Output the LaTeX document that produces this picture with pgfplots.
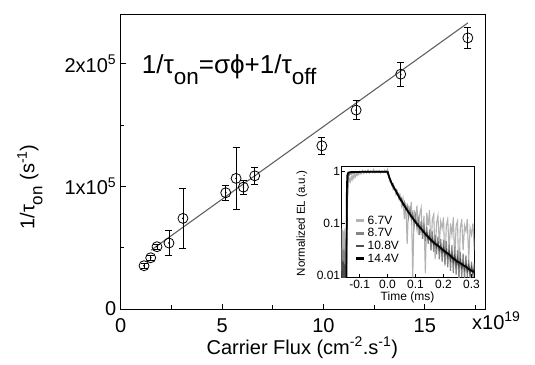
\documentclass[border=0pt]{standalone}
\usepackage{fontspec}
\setmainfont{Liberation Sans}
\usepackage{pgfplots}
\pgfplotsset{compat=1.18}
\definecolor{fitgray}{gray}{0.38}
\definecolor{c67}{gray}{0.70}
\definecolor{c87}{gray}{0.52}
\definecolor{c108}{gray}{0.30}
\newcommand{\fs}[1]{\fontsize{#1}{#1}\selectfont}
\begin{document}
\begin{tikzpicture}
\begin{axis}[name=main, at={(0pt,0pt)}, anchor=south west, scale only axis,
  width=365pt, height=294.3pt,
  xmin=0, xmax=18, ymin=0, ymax=2.4,
  xtick={0,5,10,15}, xticklabels={0,5,10,15}, minor xtick={2.5,7.5,12.5,17.5},
  ytick={0,1,2}, yticklabels={0,1x10\textsuperscript{5},2x10\textsuperscript{5}}, minor ytick={0.5,1.5},
  tick pos=left, tick align=inside,
  major tick length=5pt, minor tick length=3.5pt,
  every tick/.style={black, line width=0.8pt},
  axis line style={line width=0.8pt},
  /pgf/number format/assume math mode=true,
  ticklabel style={font=\fs{20}},
  yticklabel style={xshift=-1pt},
  xticklabel style={yshift=-6pt},
  clip=false,
]
\addplot[fitgray, line width=1.1pt] coordinates {(1.5,0.48) (17.12,2.333)};
% small-error points (open circles)
\addplot[black, only marks, mark=o, mark size=5pt, mark options={line width=0.8pt},
  error bars/.cd, y dir=both, y explicit,
  error bar style={line width=0.8pt},
  error mark options={rotate=90, mark size=3.5pt, line width=0.8pt}]
  table[x=x, y=y, y error=e] {
x y e
1.15 0.353 0.02
1.48 0.418 0.02
1.79 0.508 0.02
};
\addplot[black, only marks, mark=o, mark size=5pt, mark options={fill=white, line width=0.8pt},
  error bars/.cd, y dir=both, y explicit,
  error bar style={line width=0.8pt},
  error mark options={rotate=90, mark size=3.5pt, line width=0.8pt}]
  table[x=x, y=y, y error=e] {
x y e
2.38 0.538 0.099
3.07 0.739 0.243
5.18 0.948 0.060
5.69 1.065 0.249
6.05 0.994 0.058
6.61 1.086 0.068
9.92 1.331 0.067
11.61 1.622 0.076
13.81 1.915 0.100
17.12 2.211 0.085
};
\addplot[black, only marks, mark=*, mark size=0.6pt] coordinates {
(1.15,0.353) (1.48,0.418) (1.79,0.508) (2.38,0.538) (3.07,0.739) (5.18,0.948) (5.69,1.065)
(6.05,0.994) (6.61,1.086) (9.92,1.331) (11.61,1.622) (13.81,1.915) (17.12,2.211)};
\end{axis}

\node[anchor=base west, font=\fs{26}, inner sep=0pt] at (21pt,235.7pt)
  {1/τ\raisebox{-11.5pt}{\fs{22.5}on}=σϕ+1/τ\raisebox{-11.5pt}{\fs{22.5}off}};
\node[anchor=base, font=\fs{20}, inner sep=0pt] at (181.6pt,-45.5pt)
  {Carrier Flux (cm\textsuperscript{-2}.s\textsuperscript{-1})};
\node[anchor=center, rotate=90, font=\fs{20}, inner sep=0pt] at (-90.7pt,122pt)
  {1/τ\raisebox{-8pt}{\fs{17}on} (s\textsuperscript{-1})};
\node[anchor=base west, font=\fs{20}, inner sep=0pt] at (351.3pt,-20pt)
  {x10\textsuperscript{19}};

\begin{axis}[name=inset, at={(221pt,31.7pt)}, anchor=south west, scale only axis,
  width=132.6pt, height=110.6pt,
  ymode=log, xmin=-0.164, xmax=0.31, ymin=0.009, ymax=1.25,
  xtick={-0.1,0,0.1,0.2,0.3}, xticklabels={-0.1,0.0,0.1,0.2,0.3},
  ytick={0.01,0.1,1}, yticklabels={0.01,0.1,1}, yminorticks=false,
  tick pos=left, tick align=inside, major tick length=3pt,
  every tick/.style={black, line width=0.6pt},
  axis line style={line width=0.8pt},
  axis background/.style={fill=white},
  ticklabel style={font=\fs{12}},
  yticklabel style={xshift=2pt},
  xticklabel style={yshift=1pt},
  legend style={draw=none, fill=none, at={(rel axis cs:0.09,0.585)}, anchor=north west,
    font=\fontsize{12}{13.5}\selectfont, row sep=-1.2pt, inner sep=1pt},
  legend cell align=left,
  legend image code/.code={\draw[#1, line width=2.8pt] (0pt,0pt) -- (8pt,0pt);},
]
\addplot[c67, line width=1.1pt] table {
-0.164 0.08
-0.162 0.012
-0.160 0.075
-0.158 0.009
-0.156 0.07
-0.154 0.014
-0.152 0.08
-0.150 0.01
-0.148 0.065
-0.146 0.02
-0.144 0.15
-0.142 0.45
-0.139 0.6
-0.136 0.72
-0.133 0.65
-0.130 0.8
-0.127 0.7
-0.124 0.85
-0.121 0.75
-0.118 0.9
-0.115 0.8
-0.112 0.92
-0.109 0.85
-0.106 0.95
-0.103 0.88
-0.100 1.0
-0.095 0.9
-0.090 1.05
-0.085 0.93
-0.080 1.02
-0.075 0.95
-0.070 1.08
-0.065 0.94
-0.060 1.03
-0.055 0.96
-0.050 1.1
-0.045 0.95
-0.040 1.02
-0.035 0.97
-0.030 1.06
-0.025 0.94
-0.020 1.04
-0.015 0.97
-0.010 1.08
-0.005 0.96
0.000 1.12
0.005 0.75
0.010 0.62
0.015 0.58
0.020 0.45
0.025 0.50
0.030 0.36
0.035 0.42
0.040 0.30
0.045 0.35
0.050 0.22
0.055 0.30
0.060 0.12
0.065 0.25
0.070 0.04
0.075 0.22
0.080 0.15
0.085 0.26
0.090 0.009
0.095 0.18
0.100 0.12
0.105 0.22
0.110 0.06
0.115 0.15
0.120 0.20
0.125 0.05
0.130 0.14
0.135 0.011
0.140 0.16
0.145 0.09
0.150 0.18
0.155 0.03
0.160 0.12
0.165 0.15
0.170 0.02
0.175 0.10
0.180 0.14
0.185 0.04
0.190 0.11
0.195 0.08
0.200 0.13
0.205 0.015
0.210 0.09
0.215 0.12
0.220 0.03
0.225 0.10
0.230 0.06
0.235 0.13
0.240 0.02
0.245 0.09
0.250 0.11
0.255 0.008
0.260 0.08
0.265 0.12
0.270 0.03
0.275 0.09
0.280 0.07
0.285 0.12
0.290 0.02
0.295 0.08
0.300 0.06
0.305 0.10
0.310 0.03
};
\addlegendentry{6.7V}
\addplot[c87, line width=1.1pt] table {
-0.164 0.035
-0.162 0.008
-0.160 0.03
-0.158 0.006
-0.156 0.032
-0.154 0.009
-0.152 0.028
-0.150 0.007
-0.148 0.03
-0.146 0.05
-0.144 0.3
-0.142 0.6
-0.139 0.8
-0.136 0.88
-0.133 0.92
-0.130 0.9
-0.125 0.96
-0.120 0.93
-0.115 0.98
-0.110 0.95
-0.100 1.0
-0.090 0.96
-0.080 1.02
-0.070 0.97
-0.060 1.01
-0.050 0.98
-0.040 1.03
-0.030 0.97
-0.020 1.01
-0.010 0.98
0.000 1.0
0.005 0.8
0.010 0.72
0.015 0.55
0.020 0.58
0.025 0.45
0.030 0.46
0.035 0.36
0.040 0.38
0.045 0.28
0.050 0.31
0.055 0.22
0.060 0.26
0.065 0.18
0.070 0.22
0.075 0.13
0.080 0.19
0.085 0.12
0.090 0.16
0.095 0.09
0.100 0.14
0.105 0.08
0.110 0.12
0.115 0.06
0.120 0.11
0.125 0.05
0.130 0.10
0.135 0.045
0.140 0.085
0.145 0.04
0.150 0.075
0.155 0.03
0.160 0.07
0.165 0.028
0.170 0.06
0.175 0.025
0.180 0.055
0.185 0.02
0.190 0.05
0.195 0.018
0.200 0.048
0.205 0.016
0.210 0.045
0.215 0.014
0.220 0.04
0.225 0.012
0.230 0.038
0.235 0.011
0.240 0.035
0.245 0.01
0.250 0.03
0.255 0.009
0.260 0.028
0.265 0.009
0.270 0.026
0.275 0.008
0.280 0.024
0.285 0.009
0.290 0.02
0.295 0.008
0.300 0.018
0.305 0.009
0.310 0.017
};
\addlegendentry{8.7V}
\addplot[c108, line width=1.3pt] table {
-0.164 0.02
-0.161 0.007
-0.158 0.018
-0.155 0.006
-0.152 0.016
-0.149 0.007
-0.147 0.02
-0.145 0.2
-0.143 0.6
-0.141 0.85
-0.138 0.93
-0.134 0.96
-0.130 0.98
-0.120 0.99
-0.100 1.0
-0.080 0.99
-0.060 1.0
-0.040 0.99
-0.020 1.0
0.000 1.0
0.005 0.78
0.010 0.70
0.015 0.58
0.020 0.54
0.025 0.46
0.030 0.43
0.035 0.36
0.040 0.34
0.045 0.29
0.050 0.28
0.055 0.23
0.060 0.23
0.065 0.19
0.070 0.19
0.075 0.155
0.080 0.16
0.085 0.13
0.090 0.135
0.095 0.11
0.100 0.115
0.105 0.092
0.110 0.098
0.115 0.08
0.120 0.085
0.125 0.068
0.130 0.074
0.135 0.058
0.140 0.065
0.145 0.05
0.150 0.057
0.155 0.044
0.160 0.05
0.165 0.039
0.170 0.045
0.175 0.035
0.180 0.041
0.185 0.031
0.190 0.037
0.195 0.028
0.200 0.034
0.205 0.025
0.210 0.03
0.215 0.023
0.220 0.028
0.225 0.02
0.230 0.025
0.235 0.018
0.240 0.023
0.245 0.016
0.250 0.021
0.255 0.015
0.260 0.019
0.265 0.014
0.270 0.017
0.275 0.013
0.280 0.016
0.285 0.012
0.290 0.015
0.295 0.011
0.300 0.014
0.305 0.011
0.310 0.013
};
\addlegendentry{10.8V}
\addplot[black, line width=1.7pt] table {
-0.164 0.004
-0.1475 0.004
-0.1465 0.05
-0.1455 0.5
-0.144 0.85
-0.141 0.95
-0.136 0.98
-0.120 0.99
-0.100 0.99
-0.080 1.0
-0.060 1.0
-0.040 1.0
-0.020 1.0
0.000 1.0
0.005 0.82
0.010 0.68
0.020 0.52
0.030 0.42
0.040 0.33
0.050 0.27
0.060 0.22
0.070 0.18
0.080 0.15
0.090 0.125
0.100 0.105
0.110 0.09
0.120 0.078
0.130 0.067
0.140 0.058
0.150 0.051
0.160 0.045
0.170 0.040
0.180 0.037
0.190 0.033
0.200 0.030
0.210 0.027
0.220 0.025
0.230 0.022
0.240 0.020
0.250 0.018
0.260 0.017
0.270 0.0155
0.280 0.0145
0.290 0.013
0.300 0.012
0.310 0.0115
};
\addlegendentry{14.4V}
\end{axis}
\node[anchor=base, font=\fs{12}, inner sep=0pt] at (286.8pt,9pt) {Time (ms)};
\node[anchor=center, rotate=90, font=\fs{11.5}, inner sep=0pt] at (181.3pt,85.7pt) {Normalized EL (a.u.)};

\pgfresetboundingbox
\path (-120.7pt,-55pt) rectangle (414.3pt,309pt);
\end{tikzpicture}
\end{document}
